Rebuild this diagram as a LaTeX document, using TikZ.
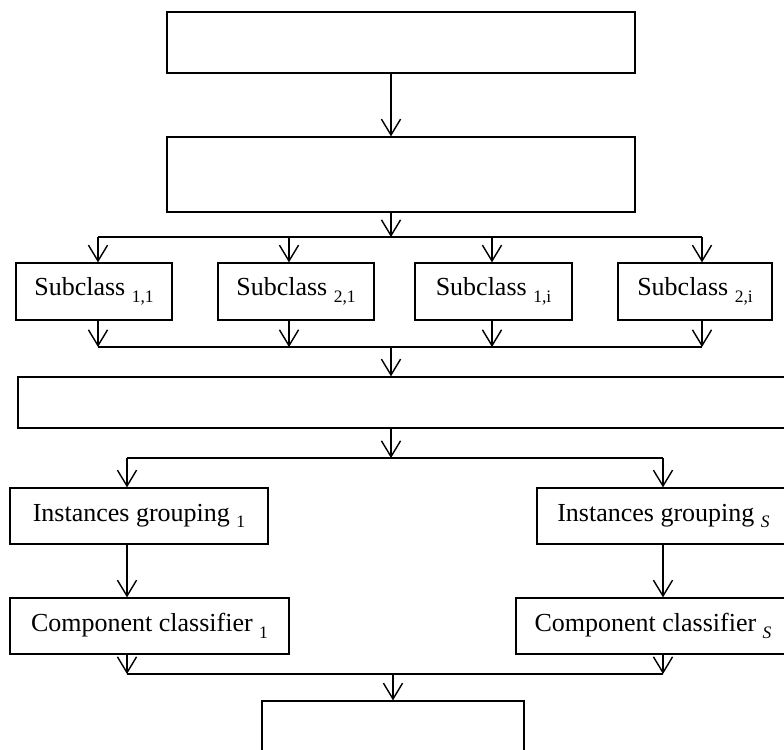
\documentclass[tikz,border=0pt]{standalone}
\usepackage{fontspec}
\setmainfont{Liberation Serif}
\usepackage{tikz}
\usetikzlibrary{arrows.meta,positioning}
\newcommand{\lowidx}[1]{\raisebox{-0.55ex}{\fontsize{10.5}{11}\selectfont #1}}

\begin{document}
\begin{tikzpicture}[x=0.6pt, y=-0.6pt,
  every node/.style={font=\fontsize{15.6}{18}\selectfont},
  box/.style={draw, line width=0.8pt, inner sep=0pt, align=center},
  arr/.style={-{Straight Barb[length=9.5pt,width=11.5pt]}, line width=0.85pt},
  bar/.style={line width=1.3pt}]
\useasboundingbox (0,0) rectangle (784,749);
% boxes
\node[box, minimum width=468*0.6pt, minimum height=61*0.6pt] (in) at (401,42.5) {};
\node[box, minimum width=468*0.6pt, minimum height=75*0.6pt] (split) at (401,174.5) {};
\node[box, minimum width=156*0.6pt, minimum height=57*0.6pt] (s11) at (94,291.5) {Subclass \lowidx{1,1}};
\node[box, minimum width=156*0.6pt, minimum height=57*0.6pt] (s21) at (296,291.5) {Subclass \lowidx{2,1}};
\node[box, minimum width=157*0.6pt, minimum height=57*0.6pt] (s1i) at (493.5,291.5) {Subclass \lowidx{1,i}};
\node[box, minimum width=154*0.6pt, minimum height=57*0.6pt] (s2i) at (695,291.5) {Subclass \lowidx{2,i}};
\node[box, minimum width=772*0.6pt, minimum height=51*0.6pt] (merge) at (404,402.5) {};
\node[box, minimum width=258*0.6pt, minimum height=56*0.6pt] (ig1) at (139,516) {Instances grouping \lowidx{1}};
\node[box, minimum width=253*0.6pt, minimum height=56*0.6pt] (igS) at (663.5,516) {Instances grouping \lowidx{\textit{S}}};
\node[box, minimum width=279*0.6pt, minimum height=56*0.6pt] (cc1) at (149.5,626) {Component classifier \lowidx{1}};
\node[box, minimum width=274*0.6pt, minimum height=56*0.6pt] (ccS) at (653,626) {Component classifier \lowidx{\textit{S}}};
\node[box, minimum width=262*0.6pt, minimum height=59*0.6pt] (out) at (393,730.5) {};
% bar points
\coordinate (spine) at (391,0);
\coordinate (b1) at (391,237);
\coordinate (b1a) at (98,237);  \coordinate (b1b) at (289,237);
\coordinate (b1c) at (492,237); \coordinate (b1d) at (702,237);
\coordinate (b2) at (391,347);
\coordinate (b2a) at (98,347);  \coordinate (b2b) at (289,347);
\coordinate (b2c) at (492,347); \coordinate (b2d) at (702,347);
\coordinate (b3) at (391,458);
\coordinate (b3a) at (127,458); \coordinate (b3b) at (663,458);
\coordinate (b4) at (393,674);
\coordinate (b4a) at (127,674); \coordinate (b4b) at (663,674);
% connectors
\draw[arr] (in.south -| spine) -- (split.north -| spine);
\draw[arr] (split.south -| spine) -- (b1);
\draw[bar] (b1a) -- (b1d);
\foreach \p/\n in {b1a/s11, b1b/s21, b1c/s1i, b1d/s2i}
  \draw[arr] (\p) -- (\p |- \n.north);
\foreach \p/\n in {b2a/s11, b2b/s21, b2c/s1i, b2d/s2i}
  \draw[arr] (\p |- \n.south) -- (\p);
\draw[bar] (b2a) -- (b2d);
\draw[arr] (b2) -- (merge.north -| b2);
\draw[arr] (merge.south -| b3) -- (b3);
\draw[bar] (b3a) -- (b3b);
\draw[arr] (b3a) -- (b3a |- ig1.north);
\draw[arr] (b3b) -- (b3b |- igS.north);
\draw[arr] (ig1.south -| b3a) -- (cc1.north -| b3a);
\draw[arr] (igS.south -| b3b) -- (ccS.north -| b3b);
\draw[arr] (cc1.south -| b4a) -- (b4a);
\draw[arr] (ccS.south -| b4b) -- (b4b);
\draw[bar] (b4a) -- (b4b);
\draw[arr] (b4) -- (out.north -| b4);
\end{tikzpicture}
\end{document}
